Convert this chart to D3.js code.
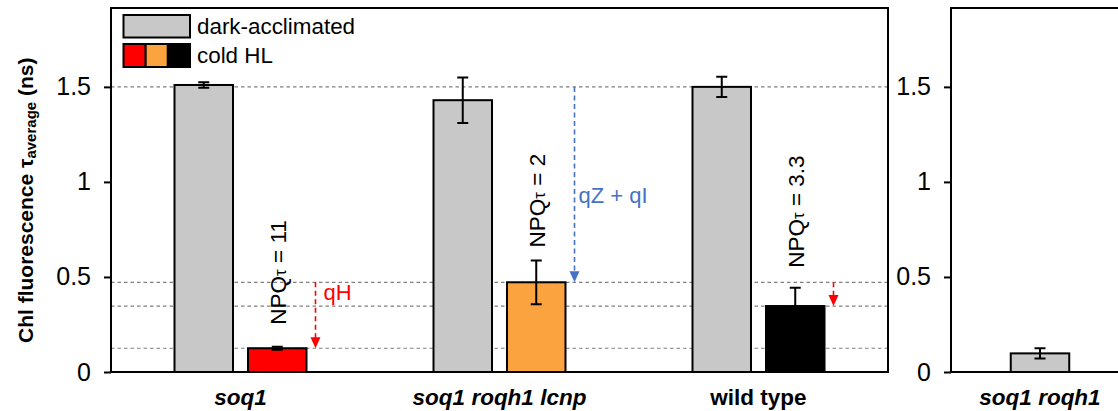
<!DOCTYPE html>
<html>
<head>
<meta charset="utf-8">
<script src="https://cdn.jsdelivr.net/npm/d3@7"></script>
<style>
  html, body { margin: 0; padding: 0; background: #fff; }
  svg { display: block; font-family: "Liberation Sans", Arial, sans-serif; }
</style>
</head>
<body>
<svg id="chart" width="1118" height="411"></svg>
<script>
// ---- data ----
const categories = ["soq1", "soq1 roqh1 lcnp", "wild type"];
const seriesNames = ["dark-acclimated", "cold HL"];
const darkValues = [1.51, 1.43, 1.50];
const darkErrors = [0.015, 0.12, 0.053];
const coldValues = [0.125, 0.472, 0.347];
const coldErrors = [0.008, 0.115, 0.096];
const coldColors = ["#FF0000", "#FBA33F", "#000000"];
const npqLabels = ["11", "2", "3.3"];
const sideCategories = ["soq1 roqh1"];
const sideValues = [0.098];
const sideErrors = [0.027];
const yTicks = [0, 0.5, 1, 1.5];
const yTickLabels = ["0", "0.5", "1", "1.5"];
const darkColor = "#C8C8C8";
// reference lines (values)
const refLines = [1.5, coldValues[1], coldValues[2], coldValues[0]];
// arrows: category, from value, to value, color, label
const arrowCats = ["soq1 roqh1 lcnp", "soq1", "wild type"];
const arrowFrom = [1.5, coldValues[1], coldValues[1]];
const arrowTo = [coldValues[1], coldValues[0], coldValues[2]];
const arrowColors = ["#4472C4", "#FF0000", "#FF0000"];
const arrowLabels = ["qZ + qI", "qH", ""];

// ---- layout ----
const svg = d3.select("#chart");
const plotTop = 8, plotBottom = 372;
const leftX0 = 111, leftX1 = 888;
const rightX0 = 951;

const y = d3.scaleLinear().domain([0, 1.915]).range([plotBottom, plotTop]);
const x0 = d3.scaleBand().domain(categories).range([leftX0, leftX1]).padding(0);
const x1 = d3.scaleBand().domain(seriesNames).range([0, x0.bandwidth()])
  .paddingInner(0.204).paddingOuter(0.864);
const bw = x1.bandwidth();
const xs = d3.scaleBand().domain(sideCategories).range([rightX0, rightX0 + 2 * 89]).padding(0);

const g = svg.append("g");

// dashed reference lines (left panel)
g.selectAll("line.ref").data(refLines).join("line")
  .attr("x1", leftX0).attr("x2", leftX1)
  .attr("y1", d => y(d)).attr("y2", d => y(d))
  .attr("stroke", "#808080").attr("stroke-width", 1.2)
  .attr("stroke-dasharray", "3.5,3");

// bars
const groups = categories.map((c, i) => ({c, i}));
g.selectAll("rect.dark").data(groups).join("rect")
  .attr("x", d => x0(d.c) + x1("dark-acclimated"))
  .attr("y", d => y(darkValues[d.i]))
  .attr("width", bw)
  .attr("height", d => y(0) - y(darkValues[d.i]))
  .attr("fill", darkColor).attr("stroke", "#000").attr("stroke-width", 2);
g.selectAll("rect.cold").data(groups).join("rect")
  .attr("x", d => x0(d.c) + x1("cold HL"))
  .attr("y", d => y(coldValues[d.i]))
  .attr("width", bw)
  .attr("height", d => y(0) - y(coldValues[d.i]))
  .attr("fill", d => coldColors[d.i]).attr("stroke", "#000").attr("stroke-width", 2);

// side bar
g.selectAll("rect.side").data(sideCategories).join("rect")
  .attr("x", (d) => xs(d) + xs.bandwidth() / 2 - bw / 2)
  .attr("y", (d, i) => y(sideValues[i]))
  .attr("width", bw)
  .attr("height", (d, i) => y(0) - y(sideValues[i]))
  .attr("fill", darkColor).attr("stroke", "#000").attr("stroke-width", 2);

// error bars
function errBar(cx, v, e) {
  const cap = 5.5;
  const p = d3.path();
  p.moveTo(cx, y(v + e)); p.lineTo(cx, y(v - e));
  p.moveTo(cx - cap, y(v + e)); p.lineTo(cx + cap, y(v + e));
  p.moveTo(cx - cap, y(v - e)); p.lineTo(cx + cap, y(v - e));
  g.append("path").attr("d", p.toString()).attr("stroke", "#000")
    .attr("stroke-width", 2).attr("fill", "none");
}
categories.forEach((c, i) => {
  errBar(x0(c) + x1("dark-acclimated") + bw / 2, darkValues[i], darkErrors[i]);
  errBar(x0(c) + x1("cold HL") + bw / 2, coldValues[i], coldErrors[i]);
});
sideCategories.forEach((c, i) => errBar(xs(c) + xs.bandwidth() / 2, sideValues[i], sideErrors[i]));

// arrows
const labelOffsets = [[4, 116], [8, 18], [0, 0]];
arrowCats.forEach((c, i) => {
  const ax = x0(c) + x1("cold HL") + bw + 9;
  const y1 = y(arrowFrom[i]), y2 = y(arrowTo[i]);
  const head = 11;
  g.append("line").attr("x1", ax).attr("x2", ax)
    .attr("y1", y1).attr("y2", y2 - head + 1)
    .attr("stroke", arrowColors[i]).attr("stroke-width", 1.6)
    .attr("stroke-dasharray", "5,3.5");
  g.append("path")
    .attr("d", `M${ax - 5},${y2 - head}L${ax + 5},${y2 - head}L${ax},${y2}Z`)
    .attr("fill", arrowColors[i]);
  if (arrowLabels[i]) {
    g.append("text").attr("x", ax + labelOffsets[i][0]).attr("y", y1 + labelOffsets[i][1])
      .attr("fill", arrowColors[i]).attr("font-size", 22).text(arrowLabels[i]);
  }
});

// NPQ labels (rotated)
const npqGap = [22, 13, 20];
categories.forEach((c, i) => {
  const cx = x0(c) + x1("cold HL") + bw / 2;
  const ys = y(coldValues[i] + coldErrors[i]) - npqGap[i];
  const t = g.append("text")
    .attr("transform", `translate(${cx + 8.5},${ys}) rotate(-90)`)
    .attr("font-size", 22.5).attr("fill", "#000");
  t.append("tspan").text("NPQ");
  t.append("tspan").attr("font-size", 17).text("τ");
  t.append("tspan").text(" = " + npqLabels[i]);
});

// frames
g.append("rect").attr("x", leftX0).attr("y", plotTop)
  .attr("width", leftX1 - leftX0).attr("height", plotBottom - plotTop)
  .attr("fill", "none").attr("stroke", "#000").attr("stroke-width", 2);
g.append("path").attr("d", `M1120,${plotTop}L${rightX0},${plotTop}L${rightX0},${plotBottom}L1120,${plotBottom}`)
  .attr("fill", "none").attr("stroke", "#000").attr("stroke-width", 2);

// y axes
function yAxis(xpos) {
  const ax = g.append("g").attr("transform", `translate(${xpos},0)`)
    .call(d3.axisLeft(y).tickValues(yTicks).tickFormat((d, i) => yTickLabels[i])
      .tickSize(7).tickPadding(13));
  ax.select(".domain").remove();
  ax.selectAll(".tick line").attr("stroke", "#000").attr("stroke-width", 2);
  ax.selectAll(".tick text").attr("font-size", 25).attr("fill", "#000")
    .attr("font-family", "Liberation Sans, Arial, sans-serif");
}
yAxis(leftX0);
yAxis(rightX0);

// category labels
g.selectAll("text.cat").data(categories).join("text")
  .attr("x", d => x0(d) + x0.bandwidth() / 2).attr("y", 405)
  .attr("text-anchor", "middle").attr("font-size", 22.5).attr("font-weight", "bold")
  .attr("font-style", d => d === "wild type" ? "normal" : "italic")
  .text(d => d);
g.selectAll("text.scat").data(sideCategories).join("text")
  .attr("x", d => xs(d) + xs.bandwidth() / 2).attr("y", 405)
  .attr("text-anchor", "middle").attr("font-size", 22.5).attr("font-weight", "bold")
  .attr("font-style", "italic").text(d => d);

// y title
const yt = g.append("text")
  .attr("transform", "translate(33,343) rotate(-90)")
  .attr("font-size", 21).attr("font-weight", "bold");
yt.append("tspan").text("Chl fluorescence τ");
yt.append("tspan").attr("font-size", 15).attr("dy", 3).text("average");
yt.append("tspan").attr("dy", -3).text(" (ns)");

// legend
const lg = g.append("g");
lg.append("rect").attr("x", 123.5).attr("y", 15).attr("width", 66.5).attr("height", 22.5)
  .attr("fill", darkColor).attr("stroke", "#000").attr("stroke-width", 2);
const sq = d3.scaleBand().domain(coldColors).range([123.5, 190]);
lg.selectAll("rect.sq").data(coldColors).join("rect")
  .attr("x", d => sq(d)).attr("y", 44).attr("width", sq.bandwidth()).attr("height", 23)
  .attr("fill", d => d).attr("stroke", "#000").attr("stroke-width", 2);
lg.selectAll("text").data(seriesNames).join("text")
  .attr("x", 197).attr("y", (d, i) => i === 0 ? 34 : 63)
  .attr("font-size", 22.4).text(d => d);
</script>
</body>
</html>
